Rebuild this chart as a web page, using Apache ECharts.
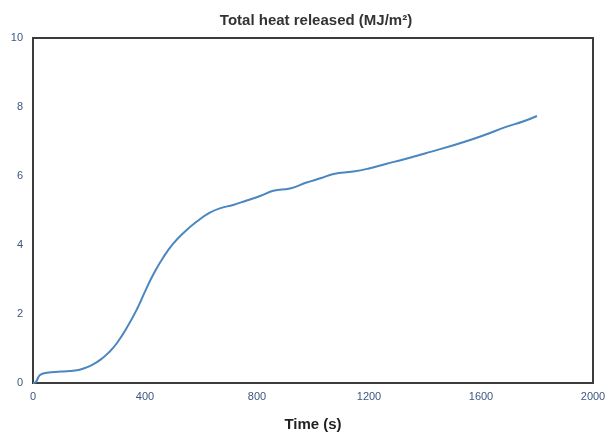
<!DOCTYPE html>
<html>
<head>
<meta charset="utf-8">
<script src="https://cdn.jsdelivr.net/npm/echarts@6/dist/echarts.min.js"></script>
<style>
  html, body { margin: 0; padding: 0; background: #fff; }
  #chart { width: 615px; height: 433px; }
</style>
</head>
<body>
<div id="chart"></div>
<script>
// time (s)
var times = [0, 10, 25, 50, 100, 150, 180, 210, 240, 270, 300, 335, 370, 400, 430, 465, 500, 540, 585, 630, 670, 715, 763, 811, 858, 918, 977, 1030, 1073, 1144, 1200, 1260, 1323, 1420, 1525, 1610, 1692, 1750, 1800];
// total heat released (MJ/m2)
var heat = [0, 0.03, 0.23, 0.30, 0.33, 0.36, 0.42, 0.52, 0.67, 0.88, 1.16, 1.60, 2.12, 2.65, 3.15, 3.64, 4.03, 4.37, 4.68, 4.93, 5.07, 5.16, 5.29, 5.42, 5.57, 5.64, 5.81, 5.94, 6.06, 6.13, 6.22, 6.35, 6.48, 6.70, 6.95, 7.18, 7.43, 7.58, 7.74];
var xTicks = { min: 0, max: 2000, step: 400 };
var yTicks = { min: 0, max: 10, step: 2 };

var chart = echarts.init(document.getElementById("chart"));

var points = times.map(function(t, i) {
    return [t, heat[i]];
});

var option = {
    animation: false,
    title: {
        text: 'Total heat released (MJ/m²)',
        left: 311,
        textAlign: 'center',
        top: 8,
        textStyle: {
            fontFamily: 'Liberation Sans, Arial, sans-serif',
            fontSize: 15,
            fontWeight: 'bold',
            color: '#333'
        }
    },
    grid: {
        left: 33,
        right: 22,
        top: 38,
        bottom: 50,
        outerBoundsMode: 'none',
        show: true,
        borderColor: '#3c3c3c',
        borderWidth: 2,
        backgroundColor: '#fff'
    },
    xAxis: {
        type: 'value',
        min: xTicks.min,
        max: xTicks.max,
        interval: xTicks.step,
        name: 'Time (s)',
        nameLocation: 'middle',
        nameGap: 34,
        nameTextStyle: {
            fontFamily: 'Liberation Sans, Arial, sans-serif',
            fontSize: 15,
            fontWeight: 'bold',
            color: '#222'
        },
        axisLine: { show: false },
        axisTick: { show: false },
        splitLine: { show: false },
        axisLabel: {
            margin: 8,
            fontFamily: 'Liberation Sans, Arial, sans-serif',
            fontSize: 11,
            color: '#3d5680',
            formatter: function(v) {
                return String(v);
            }
        }
    },
    yAxis: {
        type: 'value',
        min: yTicks.min,
        max: yTicks.max,
        interval: yTicks.step,
        axisLine: { show: false },
        axisTick: { show: false },
        splitLine: { show: false },
        axisLabel: {
            margin: 10,
            fontFamily: 'Liberation Sans, Arial, sans-serif',
            fontSize: 11,
            color: '#3d5680'
        }
    },
    series: [{
        type: 'line',
        data: points,
        smooth: true,
        showSymbol: false,
        lineStyle: {
            color: '#4a86bf',
            width: 2
        }
    }]
};

chart.setOption(option);
window.addEventListener("resize", function() {
    chart.resize();
});
</script>
</body>
</html>
